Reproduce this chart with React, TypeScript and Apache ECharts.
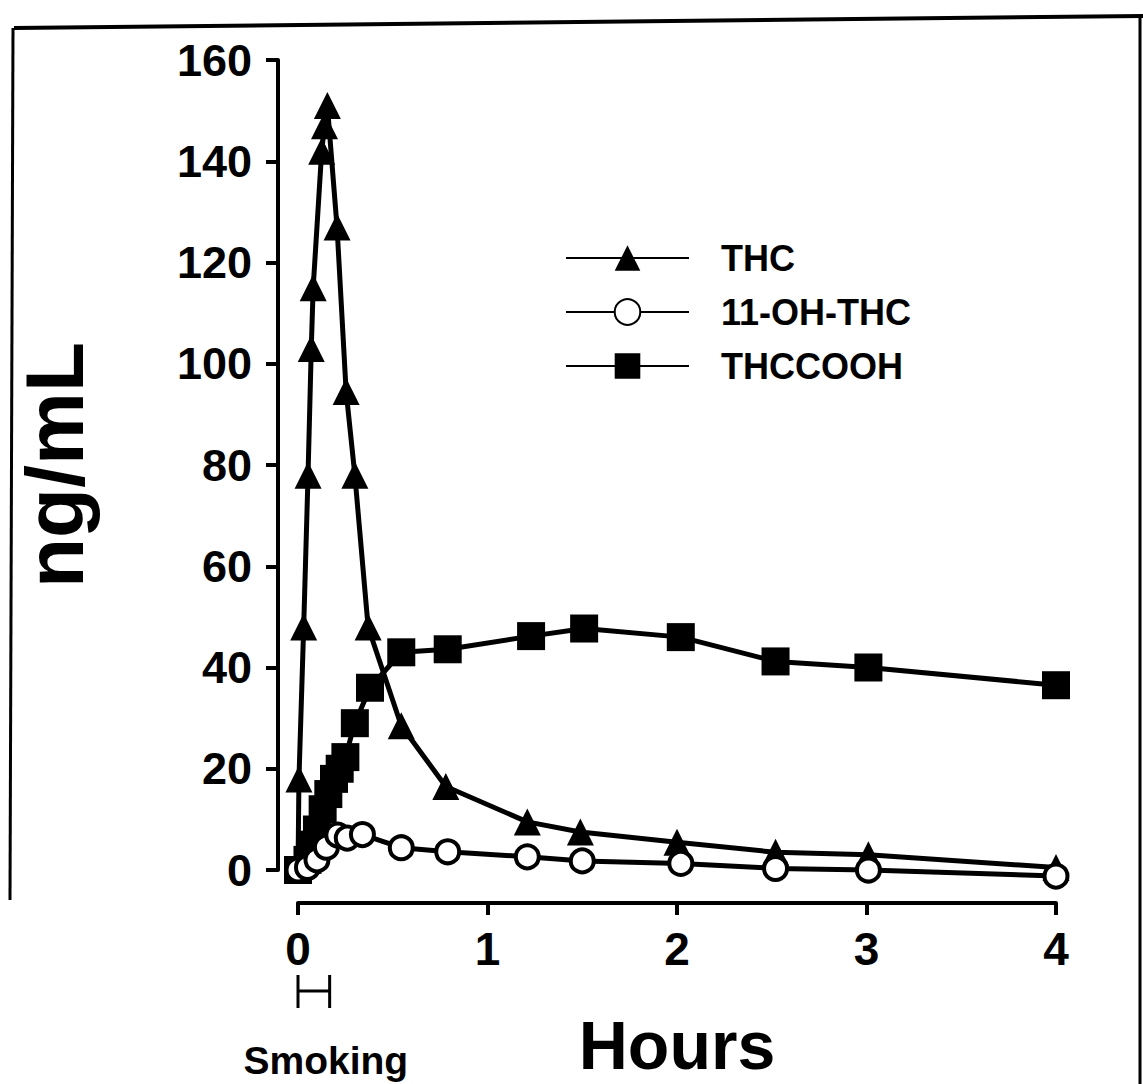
import React, { useEffect, useRef } from "react";
import * as echarts from "echarts";

// ---- data (hours, ng/mL) ----
const hourTicks = [0, 1, 2, 3, 4];
const concTicks = [0, 20, 40, 60, 80, 100, 120, 140, 160];
const seriesNames = ["THC", "11-OH-THC", "THCCOOH"];
const smokingWindow = [0, 0.167];

const thc: [number, number][] = [
  [0, 0], [0.005, 18], [0.03, 48], [0.053, 78], [0.07, 103], [0.08, 115],
  [0.125, 142], [0.14, 147], [0.155, 151], [0.206, 127], [0.254, 94.5],
  [0.3, 78], [0.37, 48], [0.545, 28.5], [0.78, 16.5], [1.21, 9.5],
  [1.49, 7.5], [2.0, 5.5], [2.52, 3.5], [3.01, 3], [4.0, 0.5],
];
const ohThc: [number, number][] = [
  [0, 0], [0.05, 0.5], [0.1, 2], [0.15, 4.5], [0.21, 6.9], [0.26, 6.3],
  [0.34, 7], [0.545, 4.4], [0.79, 3.6], [1.21, 2.6], [1.5, 1.8],
  [2.02, 1.3], [2.52, 0.3], [3.01, 0], [4.0, -1.2],
];
const thcCooh: [number, number][] = [
  [0, 0], [0.05, 2], [0.08, 5], [0.1, 8], [0.13, 12], [0.16, 15],
  [0.19, 18], [0.22, 20], [0.25, 22.3], [0.3, 29], [0.38, 36],
  [0.545, 43], [0.79, 43.6], [1.23, 46.2], [1.51, 47.7], [2.02, 46],
  [2.52, 41.2], [3.01, 40], [4.0, 36.5],
];

const FONT = "'Liberation Sans', Arial, Helvetica, sans-serif";

export default function App() {
  const ref = useRef<HTMLDivElement>(null);
  useEffect(() => {
    if (!ref.current) return;
    const chart = echarts.init(ref.current, null, { renderer: "svg" });
    const black = "#000";
    const lineStyle = { color: black, width: 5 };
    chart.setOption({
      animation: false,
      backgroundColor: "#fff",
      grid: { left: 298, right: 87, top: 60, bottom: 214 },
      xAxis: {
        type: "value",
        min: 0,
        max: 4,
        interval: 1,
        offset: 33,
        axisLine: { show: true, onZero: false, lineStyle: { color: black, width: 4 } },
        axisTick: { show: true, length: 12, lineStyle: { color: black, width: 4 } },
        axisLabel: {
          color: black, fontSize: 46, fontWeight: "bold", fontFamily: FONT, margin: 23,
          formatter: (v: number) => (hourTicks.includes(v) ? String(v) : ""),
        },
        splitLine: { show: false },
        name: "Hours",
        nameLocation: "middle",
        nameGap: 108,
        nameTextStyle: { color: black, fontSize: 68, fontWeight: "bold", fontFamily: FONT },
      },
      yAxis: {
        type: "value",
        min: 0,
        max: 160,
        interval: 20,
        offset: 20,
        axisLine: { show: true, onZero: false, lineStyle: { color: black, width: 4 } },
        axisTick: { show: true, length: 12, lineStyle: { color: black, width: 4 } },
        axisLabel: {
          color: black, fontSize: 45, fontWeight: "bold", fontFamily: FONT, margin: 26,
          formatter: (v: number) => (concTicks.includes(v) ? String(v) : ""),
        },
        splitLine: { show: false },
        name: "ng/mL",
        nameLocation: "middle",
        nameRotate: 90,
        nameGap: 183,
        nameTextStyle: { color: black, fontSize: 82, fontWeight: "bold", fontFamily: FONT },
      },
      legend: {
        orient: "vertical",
        left: 565,
        top: 240,
        padding: 0,
        itemWidth: 123,
        itemHeight: 32,
        itemGap: 18,
        data: seriesNames,
        textStyle: {
          color: black, fontSize: 36, fontWeight: "bold", fontFamily: FONT,
          padding: [0, 0, 0, 27],
        },
      },
      series: [
        {
          name: seriesNames[0], type: "line", data: thc, clip: false,
          symbol: "triangle", symbolSize: 27,
          lineStyle, itemStyle: { color: black },
          z: 3,
        },
        {
          name: seriesNames[1], type: "line", data: ohThc, clip: false,
          symbol: "circle", symbolSize: 23,
          lineStyle, itemStyle: { color: "#fff", borderColor: black, borderWidth: 4 },
          z: 4,
        },
        {
          name: seriesNames[2], type: "line", data: thcCooh, clip: false,
          symbol: "rect", symbolSize: 28,
          lineStyle, itemStyle: { color: black },
          z: 2,
        },
      ],
    });

    const x0 = chart.convertToPixel({ xAxisIndex: 0 }, smokingWindow[0]) as number;
    const x1 = chart.convertToPixel({ xAxisIndex: 0 }, smokingWindow[1]) as number;
    const bs = { stroke: black, lineWidth: 3 };
    chart.setOption({
      graphic: [
        { type: "line", shape: { x1: x0, y1: 975, x2: x0, y2: 1008 }, style: bs },
        { type: "line", shape: { x1: x1, y1: 975, x2: x1, y2: 1008 }, style: bs },
        { type: "line", shape: { x1: x0, y1: 991, x2: x1, y2: 991 }, style: bs },
        {
          type: "text", x: (x0 + x1) / 2 + 12, y: 1060,
          style: {
            text: "Smoking", fill: black, font: `bold 39px ${FONT}`,
            textAlign: "center", textVerticalAlign: "middle",
          },
        },
        // scanned page frame
        { type: "line", shape: { x1: 14, y1: 28, x2: 1143, y2: 16 }, style: { stroke: black, lineWidth: 4 } },
        { type: "line", shape: { x1: 13, y1: 28, x2: 10, y2: 900 }, style: { stroke: black, lineWidth: 3 } },
        { type: "line", shape: { x1: 1140, y1: 16, x2: 1140, y2: 1084 }, style: { stroke: black, lineWidth: 3 } },
      ],
    });

    return () => chart.dispose();
  }, []);
  return (
    <div
      ref={ref}
      style={{ position: "fixed", left: 0, top: 0, width: 1143, height: 1084, background: "#fff" }}
    />
  );
}
